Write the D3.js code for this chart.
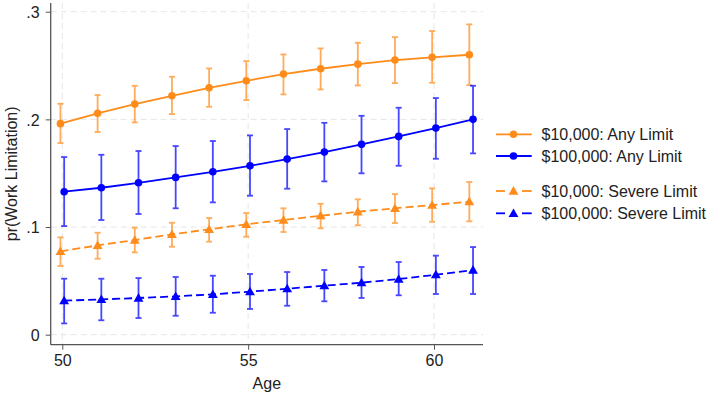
<!DOCTYPE html>
<html>
<head>
<meta charset="utf-8">
<script src="https://cdn.jsdelivr.net/npm/d3@7"></script>
<style>
  body { margin: 0; background: #fff; }
  svg { font-family: "Liberation Sans", Arial, sans-serif; }
</style>
</head>
<body>
<svg id="chart" width="709" height="394"></svg>
<script>
const ages = [50, 51, 52, 53, 54, 55, 56, 57, 58, 59, 60, 61]

// $10,000: Any Limit
const lowAnyEst = [0.196, 0.2056, 0.2142, 0.2219, 0.2293, 0.2358, 0.2421, 0.247, 0.2513, 0.2551, 0.2576, 0.26]
const lowAnyLo = [0.178, 0.1882, 0.1972, 0.2049, 0.2117, 0.2179, 0.2232, 0.2278, 0.2315, 0.2337, 0.234, 0.2318]
const lowAnyHi = [0.2145, 0.2226, 0.2312, 0.2396, 0.2473, 0.2541, 0.2603, 0.2659, 0.2711, 0.2764, 0.282, 0.2882]

// $100,000: Any Limit
const highAnyEst = [0.1328, 0.1365, 0.1411, 0.1461, 0.1513, 0.1569, 0.1631, 0.1696, 0.1768, 0.1842, 0.1919, 0.2]
const highAnyLo = [0.1009, 0.1065, 0.1121, 0.1174, 0.1229, 0.1291, 0.1356, 0.1424, 0.1499, 0.1569, 0.1634, 0.1684]
const highAnyHi = [0.165, 0.1671, 0.1706, 0.1752, 0.1799, 0.1851, 0.191, 0.1968, 0.2033, 0.2108, 0.2198, 0.2312]

// $10,000: Severe Limit
const lowSevEst = [0.0774, 0.083, 0.0879, 0.0932, 0.0979, 0.1025, 0.1065, 0.1105, 0.1142, 0.1174, 0.1204, 0.1235]
const lowSevLo = [0.0638, 0.0706, 0.0765, 0.0817, 0.0864, 0.091, 0.0954, 0.0988, 0.1016, 0.1037, 0.1049, 0.1053]
const lowSevHi = [0.0904, 0.0947, 0.0994, 0.104, 0.1084, 0.113, 0.1174, 0.1216, 0.1257, 0.1306, 0.1359, 0.1418]

// $100,000: Severe Limit
const highSevEst = [0.0316, 0.0328, 0.0341, 0.0356, 0.0375, 0.04, 0.0427, 0.0455, 0.0483, 0.0517, 0.0557, 0.0601]
const highSevLo = [0.0105, 0.0134, 0.0155, 0.0176, 0.0204, 0.0239, 0.0269, 0.031, 0.0341, 0.0366, 0.0378, 0.0378]
const highSevHi = [0.052, 0.052, 0.0526, 0.0536, 0.0548, 0.0564, 0.0582, 0.0601, 0.0629, 0.0675, 0.0734, 0.0814]

const xTicks = [50, 55, 60]
const yTicks = [0, 0.1, 0.2, 0.3]
const yTickLabels = ['0', '.1', '.2', '.3']

const ORANGE = '#ff8c1a'
const BLUE = '#0000ff'
const FONT_SIZE = '16px'

const series = [
  { name: '$10,000: Any Limit', est: lowAnyEst, lo: lowAnyLo, hi: lowAnyHi, color: ORANGE, dodge: -0.05, marker: 'circle', dash: null },
  { name: '$100,000: Any Limit', est: highAnyEst, lo: highAnyLo, hi: highAnyHi, color: BLUE, dodge: 0.05, marker: 'circle', dash: null },
  { name: '$10,000: Severe Limit', est: lowSevEst, lo: lowSevLo, hi: lowSevHi, color: ORANGE, dodge: -0.05, marker: 'triangle', dash: '8,4' },
  { name: '$100,000: Severe Limit', est: highSevEst, lo: highSevLo, hi: highSevHi, color: BLUE, dodge: 0.05, marker: 'triangle', dash: '8,4' },
]

const svg = d3.select('#chart')

// plot frame (pixel box of the axes)
const frame = { left: 50.7, right: 483, top: 3, bottom: 344.7 }

const x = d3.scaleLinear().domain([50, 60]).range([62.3, 434])
const y = d3.scaleLinear().domain([0, 0.3]).range([334.7, 11.7])

// grid
const grid = svg.append('g').attr('class', 'grid')
grid.selectAll('line.h')
  .data(yTicks)
  .enter()
  .append('line')
  .attr('x1', frame.left)
  .attr('x2', frame.right)
  .attr('y1', d => y(d))
  .attr('y2', d => y(d))
  .attr('stroke', '#e6e6e6')
  .attr('stroke-width', 1)
  .attr('stroke-dasharray', '6,4')
grid.selectAll('line.v')
  .data(xTicks)
  .enter()
  .append('line')
  .attr('x1', d => x(d))
  .attr('x2', d => x(d))
  .attr('y1', frame.top)
  .attr('y2', frame.bottom)
  .attr('stroke', '#e6e6e6')
  .attr('stroke-width', 1)
  .attr('stroke-dasharray', '6,4')

// axes
const yAxis = d3.axisLeft(y)
  .tickValues(yTicks)
  .tickSize(5)
  .tickFormat((d, i) => yTickLabels[i])
const yAxisG = svg.append('g')
  .attr('transform', `translate(${frame.left},0)`)
  .call(yAxis)
yAxisG.select('.domain').remove()
yAxisG.append('line')
  .attr('x1', 0).attr('x2', 0)
  .attr('y1', frame.top).attr('y2', frame.bottom)
  .attr('stroke', '#555').attr('stroke-width', 1.3)

const xAxis = d3.axisBottom(x)
  .tickValues(xTicks)
  .tickSize(5)
  .tickFormat(d3.format('d'))
const xAxisG = svg.append('g')
  .attr('transform', `translate(0,${frame.bottom})`)
  .call(xAxis)
xAxisG.select('.domain').remove()
xAxisG.append('line')
  .attr('x1', frame.left).attr('x2', frame.right)
  .attr('y1', 0).attr('y2', 0)
  .attr('stroke', '#555').attr('stroke-width', 1.3)

svg.selectAll('.tick line').attr('stroke', '#555').attr('stroke-width', 1)
svg.selectAll('.tick text')
  .attr('fill', '#222')
  .style('font-size', FONT_SIZE)
  .style('font-family', '"Liberation Sans", Arial, sans-serif')
yAxisG.selectAll('.tick text').attr('x', -11).attr('dy', '0.36em')
xAxisG.selectAll('.tick text').attr('y', 10)

// axis titles
svg.append('text')
  .attr('transform', `translate(17,${(frame.top + frame.bottom) / 2}) rotate(-90)`)
  .attr('text-anchor', 'middle')
  .attr('fill', '#222')
  .style('font-size', FONT_SIZE)
  .text('pr(Work Limitation)')
svg.append('text')
  .attr('x', (frame.left + frame.right) / 2)
  .attr('y', 389)
  .attr('text-anchor', 'middle')
  .attr('fill', '#222')
  .style('font-size', FONT_SIZE)
  .text('Age')

const triangle = d3.symbol().type(d3.symbolTriangle).size(42)

function drawMarker(sel, s) {
  if (s.marker === 'circle') {
    sel.append('circle').attr('r', 3.8).attr('fill', s.color)
  } else {
    sel.append('path').attr('d', triangle).attr('fill', s.color)
      .attr('transform', 'translate(0,0.8)')
  }
}

// series
const plot = svg.append('g').attr('class', 'plot')
series.forEach((s) => {
  const pts = ages.map((a, i) => ({ age: a + s.dodge, est: s.est[i], lo: s.lo[i], hi: s.hi[i] }))
  const g = plot.append('g')

  // connecting line
  const line = d3.line().x(d => x(d.age)).y(d => y(d.est))
  g.append('path')
    .datum(pts)
    .attr('fill', 'none')
    .attr('stroke', s.color)
    .attr('stroke-width', 1.8)
    .attr('stroke-dasharray', s.dash)
    .attr('d', line)

  // error bars
  const bars = g.selectAll('.bar')
    .data(pts)
    .enter()
    .append('g')
    .attr('opacity', 0.72)
  bars.append('line')
    .attr('x1', d => x(d.age)).attr('x2', d => x(d.age))
    .attr('y1', d => y(d.lo)).attr('y2', d => y(d.hi))
    .attr('stroke', s.color).attr('stroke-width', 1.8)
  bars.append('line')
    .attr('x1', d => x(d.age) - 3).attr('x2', d => x(d.age) + 3)
    .attr('y1', d => y(d.lo)).attr('y2', d => y(d.lo))
    .attr('stroke', s.color).attr('stroke-width', 1.8)
  bars.append('line')
    .attr('x1', d => x(d.age) - 3).attr('x2', d => x(d.age) + 3)
    .attr('y1', d => y(d.hi)).attr('y2', d => y(d.hi))
    .attr('stroke', s.color).attr('stroke-width', 1.8)

  // markers
  g.selectAll('.pt')
    .data(pts)
    .enter()
    .append('g')
    .attr('transform', d => `translate(${x(d.age)},${y(d.est)})`)
    .each(function eachPt() { drawMarker(d3.select(this), s) })
})

// legend
const legendRows = [134.3, 156, 191, 213.3]
const legend = svg.append('g').attr('class', 'legend')
series.forEach((s, i) => {
  const row = legend.append('g').attr('transform', `translate(0,${legendRows[i]})`)
  if (s.dash) {
    row.append('line').attr('x1', 496).attr('x2', 505).attr('y1', 0).attr('y2', 0)
      .attr('stroke', s.color).attr('stroke-width', 1.8)
    row.append('line').attr('x1', 522).attr('x2', 531.7).attr('y1', 0).attr('y2', 0)
      .attr('stroke', s.color).attr('stroke-width', 1.8)
  } else {
    row.append('line').attr('x1', 496).attr('x2', 531.7).attr('y1', 0).attr('y2', 0)
      .attr('stroke', s.color).attr('stroke-width', 1.8)
  }
  drawMarker(row.append('g').attr('transform', 'translate(513.5,0)'), s)
  row.append('text')
    .attr('x', 541.5)
    .attr('dy', '0.36em')
    .attr('fill', '#222')
    .style('font-size', FONT_SIZE)
    .text(s.name)
})
</script>
</body>
</html>
